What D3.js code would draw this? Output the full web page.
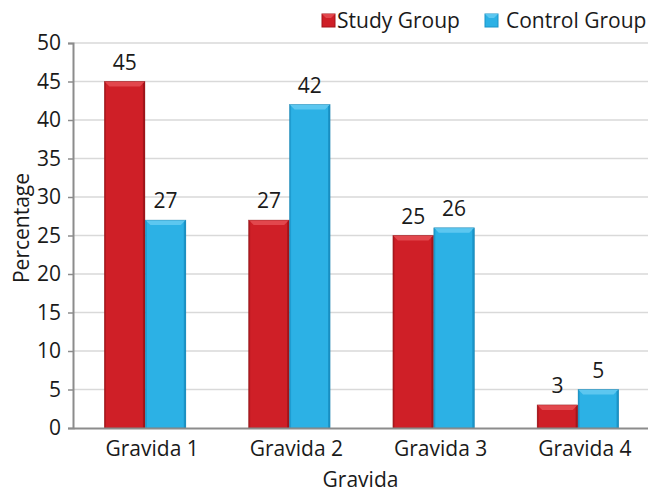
<!DOCTYPE html>
<html>
<head>
<meta charset="utf-8">
<script src="https://cdn.jsdelivr.net/npm/d3@7"></script>
<style>
  html, body { margin: 0; padding: 0; background: #fff; }
  svg { display: block; font-family: "Open Sans", "DejaVu Sans", sans-serif; }
</style>
</head>
<body>
<svg id="chart" width="648" height="494"></svg>
<script>
// Percentage of women per gravida, by group
const categories = ["Gravida 1", "Gravida 2", "Gravida 3", "Gravida 4"];
const seriesNames = ["Study Group", "Control Group"];
const studyValues = [45, 27, 25, 3];
const controlValues = [27, 42, 26, 5];
const yTicks = [0, 5, 10, 15, 20, 25, 30, 35, 40, 45, 50];

const FS = 21;
const colors = {
  "Study Group": { fill: "#cf1f27", light: "#e2474d", dark: "#a3151b", edge: "#7d1014" },
  "Control Group": { fill: "#2cb1e5", light: "#5cc7f0", dark: "#1a93c7", edge: "#14729c" }
};

const rows = categories.map((c, i) => ({
  category: c,
  values: [
    { key: "Study Group", value: studyValues[i] },
    { key: "Control Group", value: controlValues[i] }
  ]
}));

const svg = d3.select("#chart");
const margin = { left: 73, right: -2, top: 43, bottom: 66 };
const W = 648, H = 494;

const x0 = d3.scaleBand()
  .domain(categories)
  .range([margin.left, W - margin.right])
  .paddingInner(0.43)
  .paddingOuter(0.215);
const x1 = d3.scaleBand()
  .domain(seriesNames)
  .range([0, x0.bandwidth()])
  .padding(0.01);
const y = d3.scaleLinear()
  .domain([0, 50])
  .range([H - margin.bottom, margin.top]);

// Horizontal gridlines
svg.append("g")
  .selectAll("line")
  .data(yTicks.filter(t => t > 0))
  .join("line")
  .attr("x1", margin.left)
  .attr("x2", W)
  .attr("y1", d => y(d))
  .attr("y2", d => y(d))
  .attr("stroke", "#d9d9d9")
  .attr("stroke-width", 1.5);

// Bars with a bevelled look
const groups = svg.append("g")
  .selectAll("g")
  .data(rows)
  .join("g")
  .attr("transform", d => `translate(${x0(d.category)},0)`);

const bars = groups.selectAll("g.bar")
  .data(d => d.values)
  .join("g")
  .attr("class", "bar");

const bevel = 5;
bars.each(function (d) {
  const g = d3.select(this);
  const c = colors[d.key];
  const bx = x1(d.key), bw = x1.bandwidth();
  const top = y(d.value), bottom = y(0);
  const b = Math.min(bevel, (bottom - top) / 2);
  g.append("rect")
    .attr("x", bx).attr("y", top)
    .attr("width", bw).attr("height", bottom - top)
    .attr("fill", c.fill);
  // top highlight
  g.append("path")
    .attr("d", `M${bx},${top} L${bx + bw},${top} L${bx + bw - b},${top + b} L${bx + b},${top + b} Z`)
    .attr("fill", c.light);
  // right shade
  g.append("path")
    .attr("d", `M${bx + bw},${top} L${bx + bw},${bottom} L${bx + bw - 2},${bottom} L${bx + bw - 2},${top + 2} Z`)
    .attr("fill", c.dark);
  // left shade
  g.append("path")
    .attr("d", `M${bx},${top} L${bx + 1.5},${top + 1.5} L${bx + 1.5},${bottom} L${bx},${bottom} Z`)
    .attr("fill", c.dark)
    .attr("opacity", 0.7);
  g.append("rect")
    .attr("x", bx).attr("y", top)
    .attr("width", bw).attr("height", bottom - top)
    .attr("fill", "none")
    .attr("stroke", c.edge)
    .attr("stroke-width", 0.6)
    .attr("opacity", 0.6);
  // value label
  g.append("text")
    .attr("x", bx + bw / 2)
    .attr("y", top - 12)
    .attr("text-anchor", "middle")
    .attr("font-size", FS)
    .attr("fill", "#1a1a1a")
    .text(d.value);
});

// Y axis
const yAxis = d3.axisLeft(y).tickValues(yTicks).tickSize(5).tickPadding(7);
const yg = svg.append("g")
  .attr("transform", `translate(${margin.left},0)`)
  .call(yAxis);
yg.select(".domain").attr("stroke", "#8c8c8c").attr("stroke-width", 2);
yg.selectAll(".tick line").attr("stroke", "#8c8c8c").attr("stroke-width", 1.5);
yg.selectAll(".tick text")
  .attr("font-size", FS)
  .attr("font-family", "Open Sans, sans-serif")
  .attr("fill", "#1a1a1a");

// X axis
const xAxis = d3.axisBottom(x0).tickSize(0).tickPadding(13);
const xg = svg.append("g")
  .attr("transform", `translate(0,${y(0)})`)
  .call(xAxis);
xg.select(".domain").attr("stroke", "#8c8c8c").attr("stroke-width", 2);
xg.selectAll(".tick text")
  .attr("font-size", FS)
  .attr("font-family", "Open Sans, sans-serif")
  .attr("dx", 7)
  .attr("fill", "#1a1a1a");

// Axis titles
svg.append("text")
  .attr("x", (margin.left + W) / 2)
  .attr("y", 487)
  .attr("text-anchor", "middle")
  .attr("font-size", FS)
  .attr("fill", "#1a1a1a")
  .text("Gravida");

svg.append("text")
  .attr("transform", `translate(29,228) rotate(-90)`)
  .attr("text-anchor", "middle")
  .attr("font-size", FS)
  .attr("fill", "#1a1a1a")
  .text("Percentage");

// Legend
const legendItems = [
  { key: "Study Group", sx: 322, tx: 337 },
  { key: "Control Group", sx: 485, tx: 506 }
];
const legend = svg.append("g")
  .selectAll("g")
  .data(legendItems)
  .join("g");
legend.append("rect")
  .attr("x", d => d.sx).attr("y", 14)
  .attr("width", 13).attr("height", 13)
  .attr("fill", d => colors[d.key].fill)
  .attr("stroke", d => colors[d.key].dark)
  .attr("stroke-width", 1);
legend.append("path")
  .attr("d", d => `M${d.sx},${14} L${d.sx + 13},${14} L${d.sx + 9},${18} L${d.sx + 4},${18} Z`)
  .attr("fill", d => colors[d.key].light);
legend.append("text")
  .attr("x", d => d.tx).attr("y", 28)
  .attr("font-size", FS)
  .attr("fill", "#1a1a1a")
  .text(d => d.key);
</script>
</body>
</html>
